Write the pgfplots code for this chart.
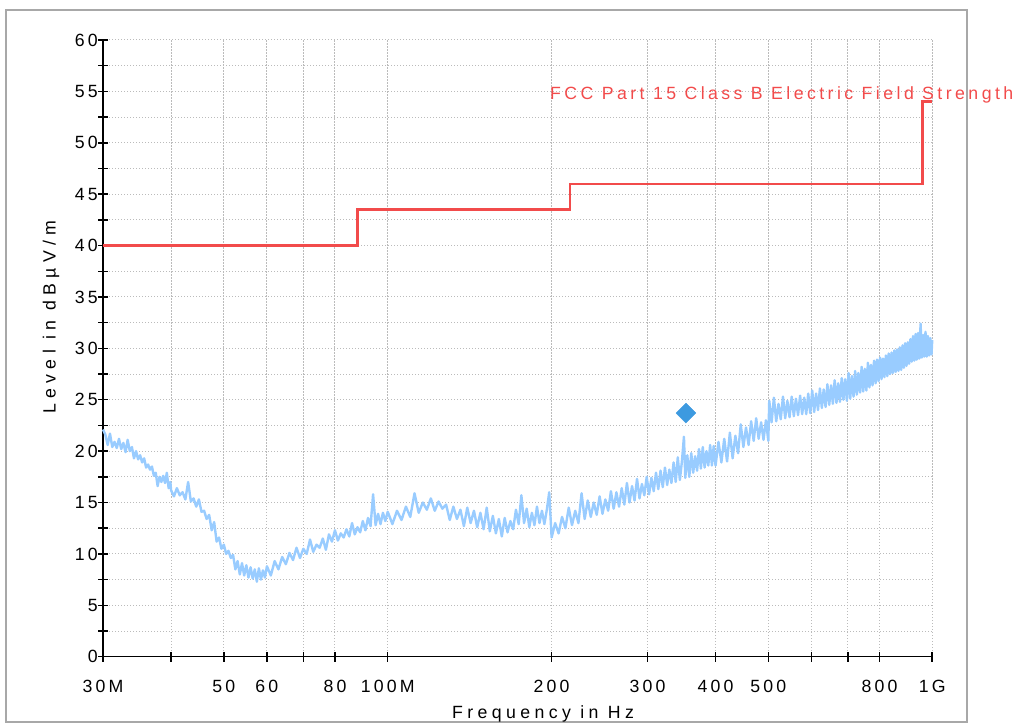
\documentclass[border=0pt]{standalone}
\usepackage{fontspec}
\setmainfont[LetterSpace=18]{Liberation Sans}
\newfontfamily\ylabfont[LetterSpace=30]{Liberation Sans}
\newfontfamily\xlabfont[LetterSpace=25]{Liberation Sans}
\newfontfamily\limfont[LetterSpace=19.5]{Liberation Sans}
\usepackage{pgfplots}
\pgfplotsset{compat=1.18}
\definecolor{limred}{HTML}{F24B4B}
\definecolor{specblue}{HTML}{99CCFF}
\definecolor{markblue}{HTML}{3D9AE0}
\definecolor{gridgray}{HTML}{BBBBBB}
\definecolor{framegray}{HTML}{A8A8A8}
\begin{document}
\begin{tikzpicture}[x=1pt,y=1pt]
\fontsize{17.7}{21}\selectfont
% page extent and outer frame
\path (-103,-68.3) rectangle (913,656.7);
\draw[framegray, line width=1.5pt] (-97,-65.3) rectangle (864,646.7);
\begin{axis}[
  at={(0,0)}, anchor=south west,
  scale only axis, width=829.2pt, height=616.7pt,
  xmode=log, xmin=30, xmax=1000, ymin=0, ymax=60,
  axis x line=bottom, axis y line=left,
  axis line style={-, line width=1.5pt, black},
  xtick={30,40,50,60,70,80,100,200,300,400,500,600,700,800,1000},
  xticklabels={30M,,50,60,,80,100M,200,300,400,500,,,800,1G},
  ytick={0,5,...,60},
  minor ytick={2.5,7.5,...,57.5},
  tick align=center,
  major tick length=10pt, minor tick length=10pt,
  every tick/.style={black, line width=1.5pt},
  grid=both,
  major grid style={gridgray, line width=1pt, dash pattern=on 1.2pt off 1.8pt},
  minor grid style={gridgray, line width=1pt, dash pattern=on 1.2pt off 1.8pt},
  minor x tick num=0,
  tick label style={font=\fontsize{17.7}{21}\selectfont},
  /pgf/number format/assume math mode=true,
  xticklabel style={anchor=north, inner sep=0pt, yshift=-18pt},
  yticklabel style={anchor=east, inner sep=0pt, xshift=0pt},
  clip=false,
]
% measured spectrum
\addplot[specblue, line width=2.4pt, line join=round] table {
30.0 22.1
30.3 21.6
30.6 20.6
30.9 21.7
31.2 20.4
31.5 20.9
31.8 20.3
32.1 21.2
32.4 20.2
32.7 20.8
33.0 19.9
33.3 21.1
33.6 20.0
33.9 20.4
34.2 19.3
34.5 20.0
34.8 19.2
35.1 19.6
35.4 18.9
35.7 19.3
36.0 18.4
36.3 18.7
36.6 18.2
36.9 18.5
37.2 17.6
37.5 17.9
37.8 16.6
38.1 17.5
38.4 17.0
38.7 17.6
39.0 16.9
39.3 17.9
39.6 16.4
39.9 17.0
40.0 16.2
40.5 15.6
41.0 16.4
41.5 15.7
42.0 16.0
42.5 15.3
43.0 17.0
43.5 15.1
44.0 15.4
44.5 14.6
45.0 15.3
45.5 14.1
46.0 14.2
46.5 13.4
47.0 13.8
47.5 12.3
48.0 13.1
48.5 11.2
49.0 11.6
49.5 10.5
50.0 10.9
50.5 10.0
51.0 10.3
51.5 9.6
52.0 9.9
52.5 8.5
53.0 9.3
53.5 8.0
54.0 9.1
54.5 7.9
55.0 8.9
55.5 7.7
56.0 8.7
56.5 7.6
57.0 8.5
57.5 7.3
58.0 8.6
58.5 7.5
59.0 8.4
59.5 7.7
60 8.8
61 7.9
62 9.3
63 8.5
64 9.7
65 9.0
66 10.1
67 9.4
68 10.6
69 9.6
70 10.5
71 10.0
72 11.4
73 10.2
74 10.9
75 10.6
76 11.5
77 10.4
78 11.9
79 11.2
80 12.3
81 11.3
82 12.0
83 11.6
84 12.4
85 11.7
86 13.0
87 11.9
88 12.6
89 12.1
90 13.2
91 12.3
92 13.5
93 12.7
94 15.8
95 12.8
96 13.9
97 12.9
98 14.0
99 13.2
100 14.1
102 12.9
104 14.2
106 13.3
108 14.6
110 13.6
112 15.9
114 14.0
116 15.0
118 14.3
120 15.4
122 14.2
124 15.1
126 14.4
128 14.8
130 13.3
132 14.6
134 13.4
136 14.3
138 12.7
140 14.5
142 13.0
144 14.2
146 12.6
148 14.0
150 12.4
152 14.5
154 12.2
156 13.7
158 12.0
160 13.4
162 11.7
164 13.5
166 12.1
168 13.2
170 12.4
172 14.3
174 12.9
176 15.7
178 13.0
180 14.4
182 12.6
184 14.0
186 12.8
188 14.6
190 13.0
192 14.2
194 12.9
196 14.3
198 16.0
200 11.6
203 13.0
206 12.0
209 13.6
212 12.5
215 14.5
218 12.8
221 14.2
224 13.0
227 15.9
230 13.4
233 15.2
236 13.6
239 15.0
242 13.8
245 15.6
248 13.9
251 15.3
254 14.2
257 16.1
260 14.4
263 16.0
266 14.6
269 16.4
272 14.8
275 16.9
278 15.0
281 16.6
284 15.2
287 17.3
290 15.4
293 16.8
296 15.7
299 17.5
302 15.8
305 17.4
308 16.1
311 17.9
314 16.3
317 18.1
320 16.5
323 18.4
326 16.7
329 18.2
332 16.9
335 18.9
338 17.0
341 19.4
344 17.2
347 19.0
350 21.4
352 17.4
355 19.6
358 17.5
361 19.8
364 17.9
367 19.5
370 18.1
373 20.2
376 18.3
379 20.4
382 18.4
385 20.0
388 18.6
391 20.6
394 18.6
397 20.5
400 18.6
405 20.9
410 18.9
415 21.2
420 19.0
425 21.8
430 19.3
435 21.5
440 19.8
445 22.6
450 20.4
455 22.3
460 20.6
465 22.9
470 21.0
475 23.2
480 21.2
485 22.8
490 21.1
495 23.0
500 21.0
502 24.9
507 22.8
512 25.2
517 22.9
522 24.6
527 23.1
532 25.3
537 23.2
542 24.9
547 23.3
552 25.3
557 23.4
562 25.1
567 23.5
572 25.4
577 23.6
582 25.2
587 23.6
592 25.6
597 23.7
602 25.9
607 23.8
612 25.6
617 24.0
622 26.1
627 24.2
632 26.0
637 24.3
642 26.5
647 24.5
652 26.4
657 24.6
662 26.9
667 24.7
672 26.6
677 24.8
682 27.1
687 25.0
692 27.0
697 24.9
702 27.6
707 25.1
712 27.3
717 25.3
722 27.8
727 25.5
732 27.6
737 25.7
742 28.2
747 25.8
752 28.0
757 25.9
762 28.6
767 26.2
772 28.4
777 26.4
782 28.8
787 26.6
792 28.9
797 26.8
802 29.1
807 27.0
812 29.0
817 27.2
822 29.3
827 27.3
832 29.5
837 27.5
842 29.6
847 27.6
852 29.8
857 27.7
862 29.9
867 27.8
872 30.1
877 27.9
882 30.3
887 28.1
892 30.5
897 28.3
902 30.6
907 28.5
912 30.9
917 28.7
922 31.2
927 28.8
932 31.4
937 28.9
942 31.5
947 29.0
952 32.4
957 29.1
962 31.3
967 29.2
972 31.6
977 29.2
982 31.2
987 29.3
992 31.0
997 29.4
1000 30.8
};
% limit line
\addplot[limred, line width=2.6pt, line join=miter] coordinates {
(30,40) (88,40) (88,43.5) (216,43.5) (216,46) (960,46) (960,54) (1000,54)
};
% final measurement marker
\addplot[only marks, mark=square*, mark size=7pt, mark options={rotate=45, fill=markblue, draw=markblue}] coordinates {(353,23.7)};
\end{axis}
\node[anchor=base west, inner sep=0pt, text=limred, font=\limfont] at (447,557.4) {FCC Part 15 Class B Electric Field Strength};
\node[anchor=base, inner sep=0pt, font=\xlabfont] at (440,-61.6) {Frequency in Hz};
\node[rotate=90, inner sep=0pt, font=\ylabfont] at (-52,339.7) {Level in dBµV/m};
\end{tikzpicture}
\end{document}
